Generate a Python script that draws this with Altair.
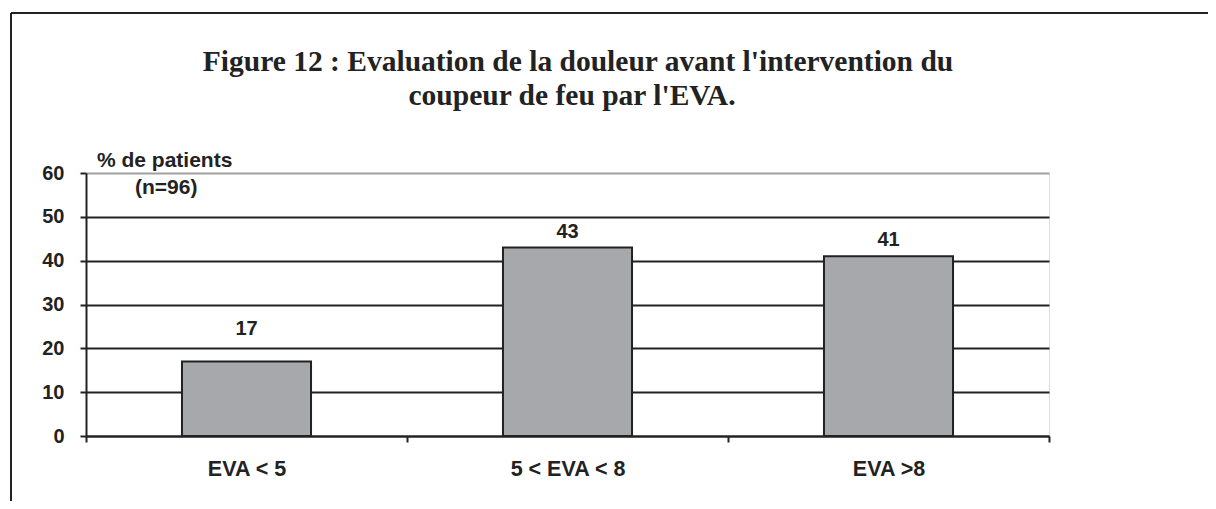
import altair as alt
import pandas as pd

categories = ["EVA < 5", "5 < EVA < 8", "EVA >8"]
values = [17, 43, 41]
y_ticks = [0, 10, 20, 30, 40, 50, 60]
title_lines = ["Figure 12 : Evaluation de la douleur avant l'intervention du",
               "coupeur de feu par l'EVA."]
axis_note = ["% de patients", "(n=96)"]

df = pd.DataFrame({"cat": categories, "val": values})

SANS = "Liberation Sans"
SERIF = "Liberation Serif"
DARK = "#222222"

x = alt.X("cat:N", sort=categories, title=None,
          scale=alt.Scale(paddingInner=0, paddingOuter=0),
          axis=alt.Axis(labelAngle=0, labelFont=SANS, labelFontSize=21.5,
                        labelFontWeight="bold", labelColor=DARK,
                        domainColor=DARK, domainWidth=2, tickColor=DARK,
                        tickWidth=2, tickSize=6, tickBand="extent",
                        labelPadding=16, grid=False))
y = alt.Y("val:Q", title=None,
          scale=alt.Scale(domain=[0, 60], nice=False),
          axis=alt.Axis(values=y_ticks, labelFont=SANS, labelFontSize=20,
                        labelFontWeight="bold", labelColor=DARK,
                        domainColor=DARK, domainWidth=2, tickColor=DARK,
                        tickWidth=2, tickSize=6, labelPadding=16,
                        grid=True, gridWidth=2,
                        gridColor=alt.condition("datum.value >= 60",
                                                alt.value("#a0a0a0"),
                                                alt.value(DARK))))

base = alt.Chart(df)

bars = base.mark_bar(width=alt.RelativeBandSize(0.402), color="#a7a8ac",
                     stroke=DARK, strokeWidth=2).encode(x=x, y=y)

lab_hi = base.transform_filter("datum.val >= 20").mark_text(
    font=SANS, fontSize=20, fontWeight="bold", color=DARK, dy=-16,
    baseline="middle").encode(x=alt.X("cat:N", sort=categories), y="val:Q",
                              text="val:Q")
lab_lo = base.transform_filter("datum.val < 20").mark_text(
    font=SANS, fontSize=20, fontWeight="bold", color=DARK, dy=-32,
    baseline="middle").encode(x=alt.X("cat:N", sort=categories), y="val:Q",
                              text="val:Q")

note1 = alt.Chart(pd.DataFrame({"t": [axis_note[0]]})).mark_text(
    font=SANS, fontSize=21, fontWeight="bold", color=DARK, align="left",
    baseline="alphabetic").encode(x=alt.value(11), y=alt.value(-6), text="t:N")
note2 = alt.Chart(pd.DataFrame({"t": [axis_note[1]]})).mark_text(
    font=SANS, fontSize=21, fontWeight="bold", color=DARK, align="left",
    baseline="alphabetic").encode(x=alt.value(49), y=alt.value(21), text="t:N")

title1 = alt.Chart(pd.DataFrame({"t": [title_lines[0]]})).mark_text(
    font=SERIF, fontSize=29.5, fontWeight="bold", color=DARK, align="center",
    baseline="alphabetic").encode(x=alt.value(492), y=alt.value(-102), text="t:N")
title2 = alt.Chart(pd.DataFrame({"t": [title_lines[1]]})).mark_text(
    font=SERIF, fontSize=29.5, fontWeight="bold", color=DARK, align="center",
    baseline="alphabetic").encode(x=alt.value(486), y=alt.value(-68), text="t:N")

frame_top = alt.Chart(pd.DataFrame({"a": [0]})).mark_rule(
    color=DARK, strokeWidth=2).encode(x=alt.value(-75), x2=alt.value(1140),
                                      y=alt.value(-160))
frame_left = alt.Chart(pd.DataFrame({"a": [0]})).mark_rule(
    color=DARK, strokeWidth=2).encode(x=alt.value(-75), y=alt.value(-160),
                                      y2=alt.value(340))

chart = alt.layer(frame_top, frame_left, bars, lab_hi, lab_lo, note1, note2,
                  title1, title2).properties(
    width=963, height=263,
    autosize=alt.AutoSizeParams(type="none"),
    padding={"left": 78, "top": 165, "right": 159, "bottom": 65},
).configure_view(stroke="#a0a0a0", strokeWidth=2).configure(background="white")

chart.save("out.html", embed_options={"renderer": "svg", "actions": False})
